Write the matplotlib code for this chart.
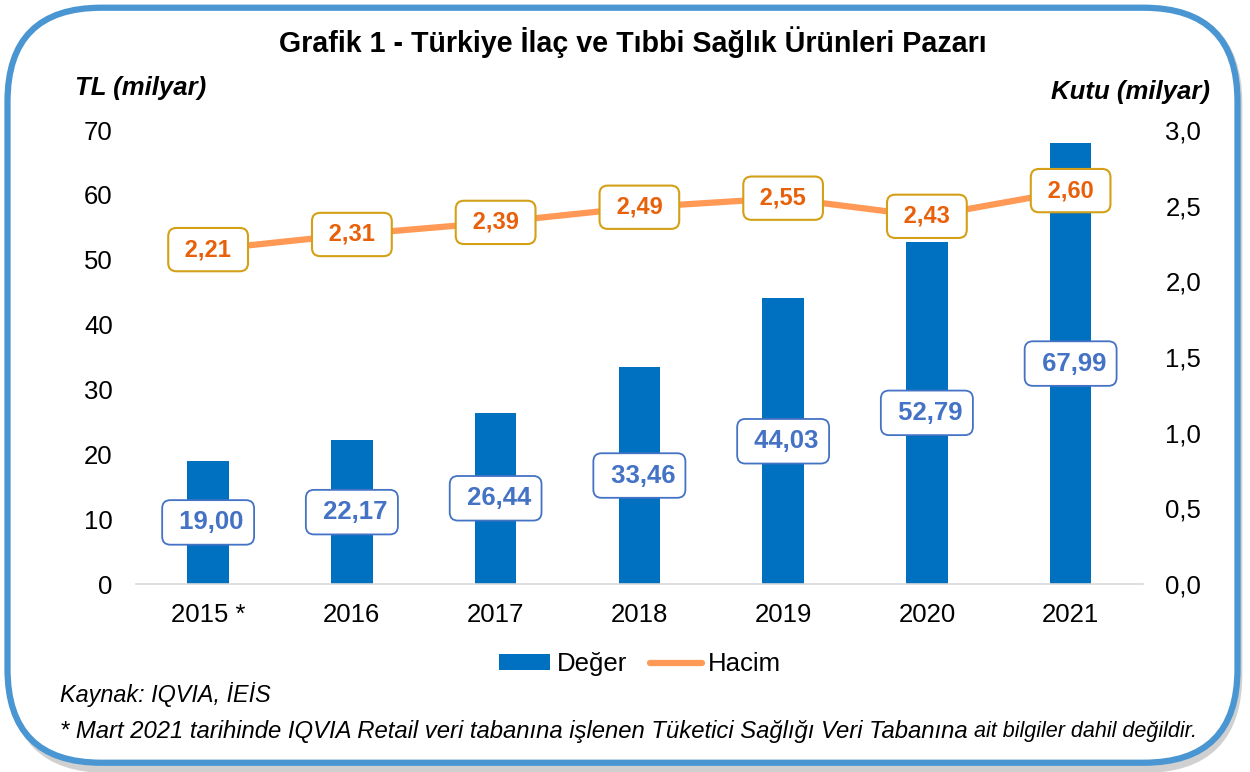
import numpy as np
import matplotlib.pyplot as plt
from matplotlib.patches import FancyBboxPatch
from matplotlib.lines import Line2D
from matplotlib.patches import Patch

plt.rcParams['font.family'] = ['Liberation Sans', 'DejaVu Sans']

years = ['2015 *', '2016', '2017', '2018', '2019', '2020', '2021']
deger = [19.00, 22.17, 26.44, 33.46, 44.03, 52.79, 67.99]
hacim = [2.21, 2.31, 2.39, 2.49, 2.55, 2.43, 2.60]
left_ticks = [0, 10, 20, 30, 40, 50, 60, 70]
right_ticks = [0.0, 0.5, 1.0, 1.5, 2.0, 2.5, 3.0]

bar_color = '#0070C0'
line_color = '#FF9955'


def tr(v, nd):
    return f'{v:.{nd}f}'.replace('.', ',')


fig = plt.figure(figsize=(12.5, 7.72), dpi=100)

# rounded frame with soft shadow
shadow = FancyBboxPatch((0.011, 0.005), 0.979, 0.982, boxstyle='round,pad=0,rounding_size=0.075',
                        transform=fig.transFigure, facecolor='none', edgecolor='#d0d0d0',
                        linewidth=7, zorder=0, mutation_aspect=1250 / 772)
fig.patches.append(shadow)
frame = FancyBboxPatch((0.006, 0.012), 0.984, 0.978, boxstyle='round,pad=0,rounding_size=0.075',
                       transform=fig.transFigure, facecolor='white', edgecolor='#4A96D2',
                       linewidth=4.5, zorder=1, mutation_aspect=1250 / 772)
fig.patches.append(frame)

ax = fig.add_axes([0.109, 0.2435, 0.805, 0.588])
ax2 = ax.twinx()
ax.set_zorder(2)
ax2.set_zorder(3)
ax.patch.set_visible(False)
ax2.patch.set_visible(False)

x = np.arange(len(years))
ax.bar(x, deger, width=0.29, color=bar_color, zorder=2)
ax.set_xlim(-0.5, len(years) - 0.5)
ax.set_ylim(0, 70)
ax.set_yticks(left_ticks)
ax.set_yticklabels([str(t) for t in left_ticks])
ax.set_xticks(x)
ax.set_xticklabels(years)

for i, v in enumerate(deger):
    ax.text(i, v / 2, ' ' + tr(v, 2), ha='center', va='center', fontsize=18.5, fontweight='bold',
            color='#4472C4', zorder=5,
            bbox=dict(boxstyle='round,pad=0.4,rounding_size=0.32', facecolor='white',
                      edgecolor='#4472C4', linewidth=1.3))

ax2.plot(x, hacim, color=line_color, linewidth=4.5, solid_capstyle='round', zorder=3)
ax2.set_ylim(0, 3.0)
ax2.set_yticks(right_ticks)
ax2.set_yticklabels([tr(t, 1) for t in right_ticks])
for i, v in enumerate(hacim):
    ax2.text(i, v, ' ' + tr(v, 2) + ' ', ha='center', va='center', fontsize=17, fontweight='bold',
             color='#E8600A', zorder=6,
             bbox=dict(boxstyle='round,pad=0.43,rounding_size=0.35', facecolor='white',
                       edgecolor='#D4A017', linewidth=1.5))

for a in (ax, ax2):
    for s in a.spines.values():
        s.set_visible(False)
    a.tick_params(length=0, labelsize=18.5, colors='black')
ax.spines['bottom'].set_visible(True)
ax.spines['bottom'].set_color('#d9d9d9')
ax.spines['bottom'].set_linewidth(1.2)
ax.tick_params(axis='y', pad=17)
ax.tick_params(axis='x', pad=14)
ax2.tick_params(axis='y', pad=16.5)

fig.text(0.506, 0.946, 'Grafik 1 - Türkiye İlaç ve Tıbbi Sağlık Ürünleri Pazarı', ha='center',
         va='center', fontsize=20.6, fontweight='bold')
fig.text(0.06, 0.886, 'TL (milyar)', ha='left', va='center', fontsize=18.5, fontweight='bold',
         style='italic')
fig.text(0.968, 0.881, 'Kutu (milyar)', ha='right', va='center', fontsize=18.5, fontweight='bold',
         style='italic')

handles = [Patch(facecolor=bar_color, label='Değer'),
           Line2D([0], [0], color=line_color, linewidth=4.5, solid_capstyle='round', label='Hacim')]
fig.legend(handles=handles, loc='center', bbox_to_anchor=(0.512, 0.14), ncol=2, frameon=False,
           fontsize=18.5, handlelength=2.0, handleheight=0.55, handletextpad=0.25, columnspacing=0.9)

fig.text(0.048, 0.101, 'Kaynak: IQVIA, İEİS', ha='left', va='center', fontsize=16.8, style='italic')
t1 = fig.text(0.048, 0.052, '* Mart 2021 tarihinde IQVIA Retail veri tabanına işlenen Tüketici Sağlığı Veri Tabanına',
              ha='left', va='center', fontsize=17.2, style='italic')
fig.canvas.draw()
bb = t1.get_window_extent()
fig.text(bb.x1 / 1250 + 0.005, 0.052, 'ait bilgiler dahil değildir.', ha='left', va='center',
         fontsize=15.5, style='italic')

fig.savefig('out.png', dpi=100)
